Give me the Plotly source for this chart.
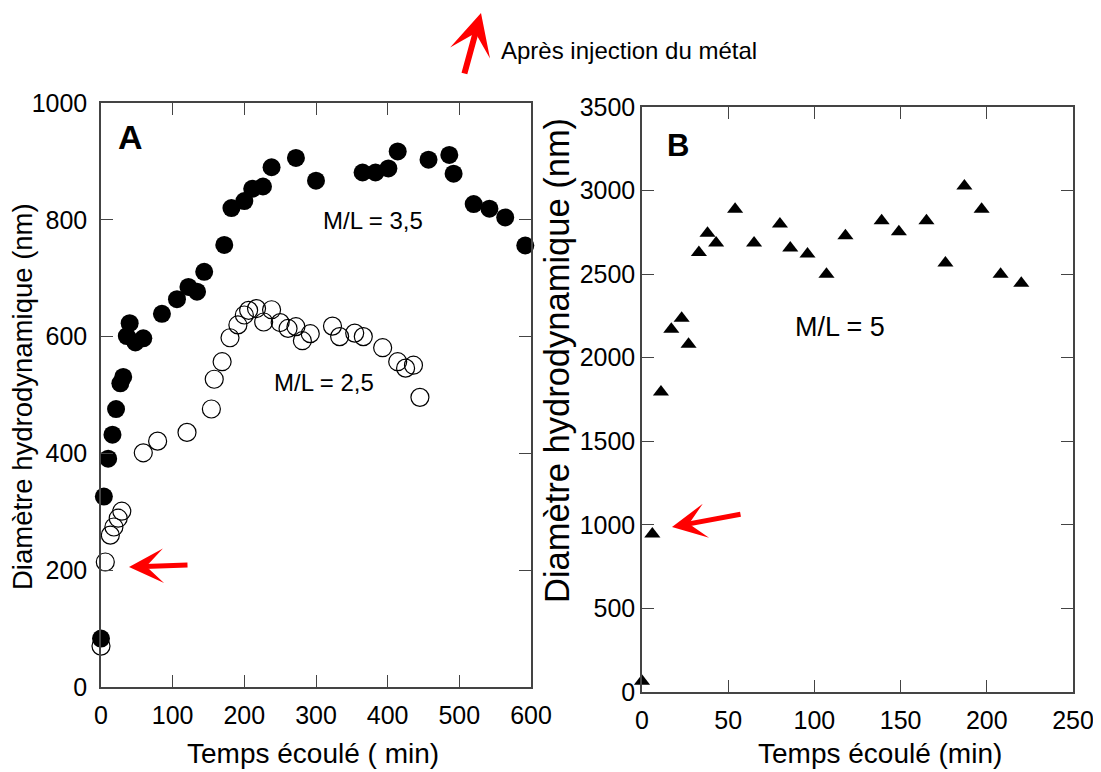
import plotly.graph_objects as go

# ---------------- data ----------------
# Panel A, M/L = 3,5 (filled circles)
a35_time = [0, 4, 10, 16, 21, 27, 31, 36, 40, 48, 59, 85, 106, 122, 134, 144, 172, 182,
            200, 211, 226, 238, 272, 300, 365, 383, 401, 414, 457, 486, 492, 520, 542, 564, 592]
a35_diam = [83, 326, 391, 432, 476, 520, 531, 601, 623, 590, 597, 639, 664, 685, 677, 711, 757, 820,
            832, 853, 857, 890, 906, 867, 881, 881, 888, 917, 903, 911, 879, 827, 819, 804, 756]

# Panel A, M/L = 2,5 (open circles)
a25_time = [0, 6, 13, 18, 24, 29, 59, 79, 120, 154, 158, 169, 180, 191, 200, 206, 217, 227,
            238, 250, 261, 272, 281, 292, 323, 333, 354, 366, 393, 414, 425, 436, 445]
a25_diam = [70, 214, 260, 274, 289, 301, 401, 421, 436, 476, 527, 557, 598, 620, 637, 645, 648, 625,
            646, 624, 614, 617, 593, 605, 618, 600, 606, 600, 581, 557, 546, 551, 496]

# Panel B, M/L = 5 (triangles)
b5_time = [0, 6, 11, 17, 23, 27, 33, 38, 43, 54, 65, 80, 86, 96, 107, 118, 139, 149, 165,
           176, 187, 197, 208, 220]
b5_diam = [65, 945, 1795, 2170, 2236, 2080, 2630, 2744, 2686, 2888, 2686, 2800, 2656, 2620, 2500,
           2730, 2820, 2754, 2820, 2566, 3028, 2888, 2500, 2445]

a_xticks = [0, 100, 200, 300, 400, 500, 600]
a_yticks = [0, 200, 400, 600, 800, 1000]
b_xticks = [0, 50, 100, 150, 200, 250]
b_yticks = [0, 500, 1000, 1500, 2000, 2500, 3000, 3500]

FONT = "Liberation Sans, Arial, Helvetica, sans-serif"
AX = "#444444"

# page body has an 8px default margin: lay out in window pixels and convert
OX, OY = 8, 8
W, H = 1101 - OX, 772 - OY


def px(x):
    return (x - OX) / W


def py(y):
    return 1 - (y - OY) / H


fig = go.Figure()

fig.add_trace(go.Scatter(x=a25_time, y=a25_diam, mode="markers", xaxis="x", yaxis="y",
                         marker=dict(symbol="circle-open", size=18, color="black", line=dict(width=1.2)),
                         cliponaxis=False, name="M/L = 2,5"))
fig.add_trace(go.Scatter(x=a35_time, y=a35_diam, mode="markers", xaxis="x", yaxis="y",
                         marker=dict(symbol="circle", size=18, color="black"),
                         cliponaxis=False, name="M/L = 3,5"))
fig.add_trace(go.Scatter(x=b5_time, y=b5_diam, mode="markers", xaxis="x2", yaxis="y2",
                         marker=dict(symbol="triangle-up", size=14, color="black"),
                         cliponaxis=False, name="M/L = 5"))

axis_common = dict(showline=True, linecolor=AX, linewidth=1.5, mirror="ticks", ticks="inside",
                   ticklen=12, tickwidth=1.2, tickcolor=AX, showgrid=False, zeroline=False,
                   automargin=False,
                   tickfont=dict(family=FONT, size=25, color="black"))

fig.update_layout(
    width=W, height=H,
    margin=dict(l=0, r=0, t=0, b=0),
    paper_bgcolor="white", plot_bgcolor="white",
    showlegend=False,
    font=dict(family=FONT, color="black"),
    xaxis=dict(domain=[px(101), px(531)], range=[0, 600], tickvals=a_xticks, anchor="y",
               ticklabelstandoff=5, **axis_common),
    yaxis=dict(domain=[py(687), py(103)], range=[0, 1000], tickvals=a_yticks, anchor="x",
               ticklabelstandoff=7, **axis_common),
    xaxis2=dict(domain=[px(642), px(1073)], range=[0, 250], tickvals=b_xticks, anchor="y2",
                ticklabelstandoff=5, **axis_common),
    yaxis2=dict(domain=[py(692), py(107)], range=[0, 3500], tickvals=b_yticks, anchor="x2",
                ticklabelstandoff=0, **axis_common),
)

# (text, x, y, size, bold, xanchor, angle)
texts = [
    ("A", 130, 137, 34, True, "center", 0),
    ("B", 678, 146, 31, True, "center", 0),
    ("M/L = 3,5", 373, 220, 24, False, "center", 0),
    ("M/L = 2,5", 324, 382, 24, False, "center", 0),
    ("M/L = 5", 840, 327, 27, False, "center", 0),
    ("Après injection du métal", 499, 50, 24, False, "left", 0),
    ("Temps écoulé ( min)", 313, 753, 28, False, "center", 0),
    ("Temps écoulé (min)", 880, 753, 28, False, "center", 0),
    ("Diamètre hydrodynamique (nm)", 22, 397, 27.5, False, "center", -90),
    ("Diamètre hydrodynamique (nm)", 557, 361, 34.5, False, "center", -90),
]
for t, x, y, s, bold, anchor, ang in texts:
    fig.add_annotation(x=px(x), y=py(y), xref="paper", yref="paper", showarrow=False,
                       text=f"<b>{t}</b>" if bold else t, xanchor=anchor, yanchor="middle",
                       textangle=ang, font=dict(family=FONT, size=s, color="black"))

# red arrows (tip, tail, shaft width) in window pixels
arrows = [((481, 13), (464, 75), 6), ((129, 567), (189, 565), 5), ((672, 527), (742, 514), 5)]
for (tx, ty), (sx, sy), wdt in arrows:
    fig.add_annotation(x=px(tx), y=py(ty), xref="paper", yref="paper", text="",
                       showarrow=True, axref="pixel", ayref="pixel", ax=sx - tx, ay=sy - ty,
                       arrowhead=3, arrowsize=1.15, arrowwidth=wdt, arrowcolor="#ff0000",
                       standoff=0, startstandoff=0)

fig.write_html("out.html")
